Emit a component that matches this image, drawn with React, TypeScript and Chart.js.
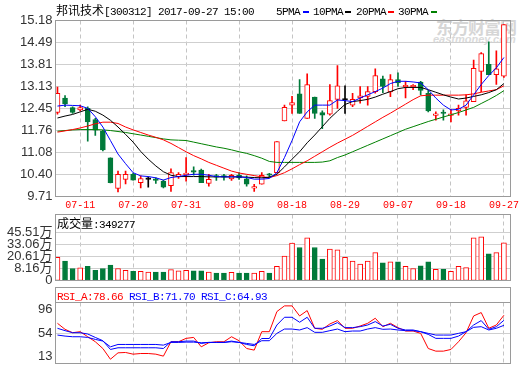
import React, { useEffect, useRef } from "react";
import { Chart, registerables } from "chart.js";
Chart.register(...registerables);

const DATES = ["07-06","07-07","07-10","07-11","07-12","07-13","07-14","07-17","07-18","07-19","07-20","07-21","07-24","07-25","07-26","07-27","07-28","07-31","08-01","08-02","08-03","08-04","08-07","08-08","08-09","08-10","08-11","08-14","08-15","08-16","08-17","08-18","08-21","08-22","08-23","08-24","08-25","08-28","08-29","08-30","08-31","09-01","09-04","09-05","09-06","09-07","09-08","09-11","09-12","09-13","09-14","09-15","09-18","09-19","09-20","09-21","09-22","09-25","09-26","09-27"];
const TICK_DATES = ["07-11","07-20","07-31","08-09","08-18","08-29","09-07","09-18","09-27"];

const OPEN = [12.32,12.77,12.47,12.40,12.45,12.10,11.74,10.91,9.96,10.24,10.40,10.14,10.24,10.23,10.19,10.05,10.32,10.39,10.48,10.53,10.12,10.32,10.32,10.26,10.37,10.26,9.97,10.09,10.38,10.45,12.06,12.55,12.90,12.14,12.80,12.32,12.27,12.73,12.71,12.55,12.77,12.82,12.97,13.37,12.96,13.34,13.12,13.12,13.27,12.92,12.23,12.30,12.23,12.37,12.48,12.66,13.60,13.82,13.50,13.45];
const HIGH = [13.11,12.85,12.50,12.55,12.50,12.14,11.77,10.91,10.50,10.50,10.44,10.35,10.32,10.29,10.22,10.57,10.45,10.92,10.63,10.56,10.40,10.40,10.40,10.40,10.45,10.35,10.09,10.45,10.43,11.42,12.55,12.82,13.34,13.52,12.80,12.37,13.19,13.78,13.15,12.92,13.13,13.13,13.68,13.45,13.50,13.55,13.29,13.19,13.29,13.01,12.34,12.40,12.42,12.55,12.87,13.95,14.18,14.52,14.24,15.05];
const LOW = [12.27,12.50,12.29,12.37,11.43,11.61,11.13,10.13,9.85,10.10,10.22,9.98,10.00,10.12,9.98,9.87,10.27,10.19,10.37,10.14,10.03,10.21,10.22,10.21,10.24,10.03,9.87,10.09,10.32,10.44,12.06,12.29,12.29,12.14,12.14,11.82,12.24,12.45,12.29,12.50,12.61,12.55,12.92,12.94,12.81,13.13,12.77,13.03,12.87,12.34,12.08,12.08,12.03,12.24,12.24,12.66,12.97,13.50,13.19,13.41];
const CLOSE = [12.92,12.59,12.32,12.47,12.03,11.77,11.16,10.14,10.40,10.40,10.22,10.27,10.24,10.21,10.00,10.45,10.40,10.40,10.47,10.14,10.24,10.31,10.31,10.37,10.29,10.09,9.98,10.37,10.37,11.42,12.48,12.63,12.29,13.19,12.29,12.24,12.69,13.15,12.71,12.73,12.84,12.97,13.47,13.13,13.34,13.24,13.13,13.13,13.01,12.37,12.24,12.29,12.24,12.45,12.68,13.69,14.15,13.50,13.68,15.05];

const MA5 = [12.52,12.55,12.54,12.53,12.45,12.19,11.87,11.45,11.03,10.73,10.45,10.35,10.33,10.29,10.22,10.30,10.33,10.37,10.40,10.40,10.37,10.33,10.32,10.32,10.32,10.30,10.25,10.25,10.27,10.45,10.92,11.45,12.03,12.34,12.55,12.55,12.55,12.71,12.69,12.66,12.77,12.87,12.97,13.08,13.22,13.29,13.29,13.27,13.24,13.03,12.77,12.55,12.40,12.42,12.55,12.87,13.19,13.47,13.71,14.03];
const MA10 = [12.15,12.21,12.26,12.34,12.42,12.36,12.24,12.08,11.87,11.64,11.40,11.11,10.87,10.66,10.48,10.37,10.33,10.33,10.33,10.33,10.32,10.32,10.32,10.32,10.32,10.31,10.30,10.29,10.31,10.40,10.63,10.87,11.10,11.38,11.62,11.88,12.14,12.36,12.57,12.66,12.69,12.73,12.80,12.89,12.97,13.06,13.10,13.10,13.10,13.03,12.95,12.87,12.80,12.74,12.77,12.82,12.87,12.94,13.03,13.22];
const MA20 = [11.71,11.75,11.79,11.84,11.90,11.97,12.02,12.02,11.98,11.87,11.78,11.70,11.62,11.55,11.47,11.36,11.23,11.10,10.98,10.88,10.77,10.68,10.59,10.50,10.44,10.40,10.36,10.32,10.30,10.36,10.45,10.57,10.70,10.82,10.96,11.10,11.24,11.37,11.49,11.61,11.75,11.89,12.03,12.17,12.30,12.44,12.58,12.72,12.84,12.86,12.86,12.86,12.86,12.86,12.87,12.90,12.95,12.99,13.03,13.15];
const MA30 = [11.74,11.76,11.78,11.79,11.79,11.79,11.78,11.76,11.73,11.70,11.66,11.62,11.58,11.54,11.50,11.47,11.46,11.45,11.40,11.35,11.30,11.25,11.21,11.16,11.10,11.05,10.98,10.90,10.80,10.77,10.77,10.77,10.77,10.77,10.77,10.78,10.82,10.92,11.00,11.10,11.20,11.30,11.40,11.50,11.60,11.70,11.80,11.88,11.96,12.04,12.11,12.18,12.25,12.32,12.40,12.48,12.60,12.72,12.85,13.00];

// volume in 万 (10k shares)
const VOLUME = [19.9,15.9,8.2,8.8,10.6,6.4,8.2,11.7,8.2,6.4,5.3,5.3,4.6,4.6,4.6,7.1,5.7,6.4,5.7,5.7,4.6,3.5,3.5,4.2,3.5,3.5,3.5,5.3,3.5,10.6,21.2,34.8,30.1,40.1,30.1,18.1,28.4,27.6,19.9,15.9,12.7,15.9,24.8,14.1,15.2,15.2,10.6,8.2,10.9,15.2,7.4,7.4,5.3,10.6,9.2,40.1,41.1,23.4,24.8,34.9277];

const RSI_A = [67.7,59.5,54.9,56.3,49.4,42.6,33.4,18.8,27.5,28.0,25.7,26.6,26.6,25.7,23.0,42.6,42.6,47.2,48.5,35.7,41.2,42.6,42.6,49.4,44.0,33.4,31.2,56.3,56.3,83.7,91.4,91.4,77.7,85.0,60.9,59.5,66.8,71.4,60.9,60.9,64.0,67.7,74.6,63.1,67.7,61.8,57.2,57.2,54.0,33.4,29.8,29.8,32.1,42.6,54.9,77.7,82.3,60.9,65.4,78.66];
const RSI_B = [60.9,57.7,54.9,54.9,53.1,48.5,44.0,32.1,34.4,34.4,34.4,34.4,34.4,34.4,33.4,42.6,42.6,43.5,43.5,40.3,41.7,41.7,41.7,43.5,41.7,38.9,37.1,47.0,47.0,65.4,75.9,75.9,69.1,75.9,60.9,60.9,64.0,68.6,61.8,61.8,63.1,65.4,70.0,64.0,66.3,60.9,58.6,58.6,56.3,52.6,47.2,47.2,47.2,50.3,56.3,65.4,71.4,59.5,63.1,71.70];
const RSI_C = [51.7,50.3,49.4,49.4,48.5,45.8,43.5,35.7,38.9,38.9,38.9,38.9,38.9,38.9,38.0,41.7,41.7,42.1,42.1,41.2,41.7,41.7,41.7,42.6,41.7,40.3,38.9,44.0,44.0,54.0,59.9,59.9,58.6,61.8,55.4,55.4,57.7,59.9,56.3,57.2,57.2,59.9,61.8,59.5,59.9,58.6,57.7,57.7,56.3,54.0,51.7,51.7,51.7,54.0,56.3,62.2,63.1,58.6,60.9,64.93];

const PRICE_TICKS = [15.18,14.49,13.81,13.13,12.45,11.76,11.08,10.40,9.71];
const VOL_FLOOR = -4.29;
const VOL_TICKS = [VOL_FLOOR, 8.16, 20.61, 33.06, 45.51];
const VOL_TICK_LABELS = ["0", "8.16万", "20.61万", "33.06万", "45.51万"];
const RSI_TICKS = [96, 54, 13];

const UP = "#ff0000";
const DOWN = "#007a3a";
const FLAT = "#000000";
const GRID = "#cfcfcf";
const FRAME = "#9a9a9a";
const LABEL_FONT = "'Liberation Sans', 'Noto Sans CJK SC', sans-serif";
const MONO = "'Liberation Mono', monospace";
const CJK = "'Noto Sans CJK SC', sans-serif";

const X_MIN = -0.26;
const X_MAX = 59.87;
const TICK_IDX = TICK_DATES.map((d) => DATES.indexOf(d));

const candleColor = (i: number) => (CLOSE[i] > OPEN[i] ? UP : CLOSE[i] < OPEN[i] ? DOWN : FLAT);
const volUp = (i: number) => CLOSE[i] >= OPEN[i];

const framePlugin = {
  id: "frame",
  afterDraw(chart: any, _args: any, opts: any) {
    const { ctx, chartArea: a } = chart;
    ctx.save();
    ctx.strokeStyle = FRAME;
    ctx.lineWidth = 1;
    const header = opts.header || 0;
    ctx.strokeRect(a.left, a.top - header, a.right - a.left, a.bottom - a.top + header);
    if (header) {
      ctx.beginPath();
      ctx.moveTo(a.left, a.top);
      ctx.lineTo(a.right, a.top);
      ctx.stroke();
    }
    if (opts.labels) {
      const s = chart.scales.y;
      ctx.fillStyle = "#333";
      ctx.font = "13px " + LABEL_FONT;
      ctx.textAlign = "right";
      ctx.textBaseline = "middle";
      opts.labels.forEach((v: number) => {
        let y = s.getPixelForValue(v);
        y = Math.min(Math.max(y, s.top + 7), s.bottom - 7);
        ctx.fillText(String(v), s.right - 3, y);
      });
    }
    ctx.restore();
  },
};

function xAxis(showLabels: boolean) {
  return {
    type: "linear",
    min: X_MIN,
    max: X_MAX,
    offset: false,
    afterBuildTicks: (s: any) => {
      s.ticks = TICK_IDX.map((v) => ({ value: v }));
    },
    afterFit: (s: any) => {
      s.height = showLabels ? 15.5 : 0;
      s.paddingLeft = 0;
      s.paddingRight = 0;
    },
    grid: { color: "#c4c4c4", drawTicks: false, offset: false, lineWidth: 1 },
    border: { display: false, dash: [4, 3] },
    ticks: {
      display: showLabels,
      autoSkip: false,
      maxRotation: 0,
      color: UP,
      padding: 3,
      font: { family: MONO, size: 10 },
      callback: (v: any) => DATES[v] ?? "",
    },
  };
}

function yAxisBase(min: number, max: number, values: number[], labels: ((v: number, i: number) => string) | null) {
  return {
    type: "linear",
    min,
    max,
    afterBuildTicks: (s: any) => {
      s.ticks = values.map((v) => ({ value: v }));
    },
    afterFit: (s: any) => {
      s.width = 55.5;
      s.paddingTop = 0;
      s.paddingBottom = 0;
    },
    grid: { color: GRID, drawTicks: false, offset: false },
    border: { display: false },
    ticks: {
      display: !!labels,
      color: "#333",
      padding: 3,
      autoSkip: false,
      font: { family: LABEL_FONT, size: 13 },
      callback: (v: any, i: number) => (labels ? labels(v, i) : ""),
    },
  };
}

const baseOptions = (padding: any, scales: any, frame: any) => ({
  responsive: false,
  animation: false,
  events: [],
  layout: { padding },
  plugins: { legend: { display: false }, tooltip: { enabled: false }, frame },
  scales,
});

const pts = (arr: number[]) => arr.map((v, i) => ({ x: i, y: v }));
const maLine = (arr: number[], color: string) => ({
  type: "line",
  data: pts(arr),
  borderColor: color,
  borderWidth: 1,
  pointRadius: 0,
  tension: 0,
  fill: false,
  order: 0,
});

export default function App() {
  const mainRef = useRef<HTMLCanvasElement>(null);
  const volRef = useRef<HTMLCanvasElement>(null);
  const rsiRef = useRef<HTMLCanvasElement>(null);

  useEffect(() => {
    const idx = DATES.map((_, i) => i);

    const main = new Chart(mainRef.current as any, {
      type: "bar",
      data: {
        datasets: [
          maLine(MA5, "#0000ff"),
          maLine(MA10, "#000000"),
          maLine(MA20, "#ff0000"),
          maLine(MA30, "#008000"),
          {
            type: "bar",
            data: idx.map((i) => ({ x: i, y: [OPEN[i], CLOSE[i]] })),
            backgroundColor: idx.map((i) => (CLOSE[i] > OPEN[i] ? "#ffffff" : candleColor(i))),
            borderColor: idx.map((i) => candleColor(i)),
            borderWidth: 1,
            borderSkipped: false,
            barThickness: 5,
            grouped: false,
            minBarLength: 1.5,
            order: 1,
          },
          {
            type: "bar",
            data: idx.map((i) => ({ x: i, y: [LOW[i], HIGH[i]] })),
            backgroundColor: idx.map((i) => candleColor(i)),
            borderWidth: 0,
            barThickness: 1,
            grouped: false,
            order: 2,
          },
        ] as any,
      },
      options: baseOptions(
        { top: 20.5, right: 9.5, bottom: 153, left: 0 },
        {
          x: xAxis(true),
          y: yAxisBase(9.71, 15.18, PRICE_TICKS, (v) => Number(v).toFixed(2)),
        },
        {}
      ) as any,
      plugins: [framePlugin],
    });

    const vol = new Chart(volRef.current as any, {
      type: "bar",
      data: {
        datasets: [
          {
            type: "bar",
            data: idx.map((i) => ({ x: i, y: [VOL_FLOOR, VOLUME[i]] })),
            backgroundColor: idx.map((i) => (volUp(i) ? "#ffffff" : DOWN)),
            borderColor: idx.map((i) => (volUp(i) ? UP : DOWN)),
            borderWidth: 1,
            borderSkipped: false,
            barThickness: 5,
            grouped: false,
          },
        ] as any,
      },
      options: baseOptions(
        { top: 214.5, right: 9.5, bottom: 84.5, left: 0 },
        {
          x: xAxis(false),
          y: yAxisBase(VOL_FLOOR, 64.5, VOL_TICKS, (_v, i) => VOL_TICK_LABELS[i]),
        },
        {}
      ) as any,
      plugins: [framePlugin],
    });

    const rsi = new Chart(rsiRef.current as any, {
      type: "line",
      data: {
        datasets: [
          maLine(RSI_C, "#0000ff"),
          maLine(RSI_B, "#0000ff"),
          maLine(RSI_A, "#ff0000"),
        ] as any,
      },
      options: baseOptions(
        { top: 302.5, right: 9.5, bottom: 1.5, left: 0 },
        {
          x: xAxis(false),
          y: yAxisBase(13, 96, [54], null),
        },
        { header: 15, labels: RSI_TICKS }
      ) as any,
      plugins: [framePlugin],
    });

    return () => {
      main.destroy();
      vol.destroy();
      rsi.destroy();
    };
  }, []);

  const abs: React.CSSProperties = { position: "absolute", left: 0, top: 0 };
  const txt = (left: number, top: number, children: React.ReactNode, extra: React.CSSProperties = {}) => (
    <div style={{ position: "absolute", left, top, height: 20, lineHeight: "20px", whiteSpace: "nowrap", ...extra }}>{children}</div>
  );
  const monoStyle: React.CSSProperties = { fontFamily: MONO, fontSize: 11, letterSpacing: "-0.6px" };
  const cjkStyle: React.CSSProperties = { fontFamily: CJK, fontSize: 12 };
  const dash = (left: number, color: string) => (
    <div style={{ position: "absolute", left, top: 10.5, width: 6, height: 2, background: color }} />
  );

  return (
    <div style={{ position: "absolute", left: 0, top: 0, width: 520, height: 365, background: "#fff", overflow: "hidden", color: "#000" }}>
      <div style={{ position: "absolute", left: 436, top: 14, fontFamily: CJK, fontSize: 17, fontWeight: 700, color: "#d6d6d6", whiteSpace: "nowrap", letterSpacing: "-1px" }}>东方财富网</div>
      <div style={{ position: "absolute", left: 433, top: 33, fontFamily: LABEL_FONT, fontSize: 11, fontStyle: "italic", fontWeight: 700, color: "#dadada", whiteSpace: "nowrap" }}>eastmoney.com</div>
      <canvas ref={mainRef} width={520} height={365} style={abs} />
      <canvas ref={volRef} width={520} height={365} style={abs} />
      <canvas ref={rsiRef} width={520} height={365} style={abs} />
      {txt(56, 0, <><span style={cjkStyle}>邦讯技术</span><span style={monoStyle}>[300312] 2017-09-27 15:00</span></>)}
      {txt(276, 0, <span style={monoStyle}>5PMA</span>)}
      {dash(303, "#0000ff")}
      {txt(313, 0, <span style={monoStyle}>10PMA</span>)}
      {dash(345, "#000000")}
      {txt(356, 0, <span style={monoStyle}>20PMA</span>)}
      {dash(388, "#ff0000")}
      {txt(398, 0, <span style={monoStyle}>30PMA</span>)}
      {dash(431, "#008000")}
      {txt(57, 213, <><span style={cjkStyle}>成交量</span><span style={monoStyle}>:349277</span></>)}
      {txt(57, 285, <>
        <span style={{ ...monoStyle, color: "#ff0000" }}>RSI_A:78.66 </span>
        <span style={{ ...monoStyle, color: "#0000ff" }}>RSI_B:71.70 </span>
        <span style={{ ...monoStyle, color: "#0000ff" }}>RSI_C:64.93</span>
      </>)}
    </div>
  );
}
